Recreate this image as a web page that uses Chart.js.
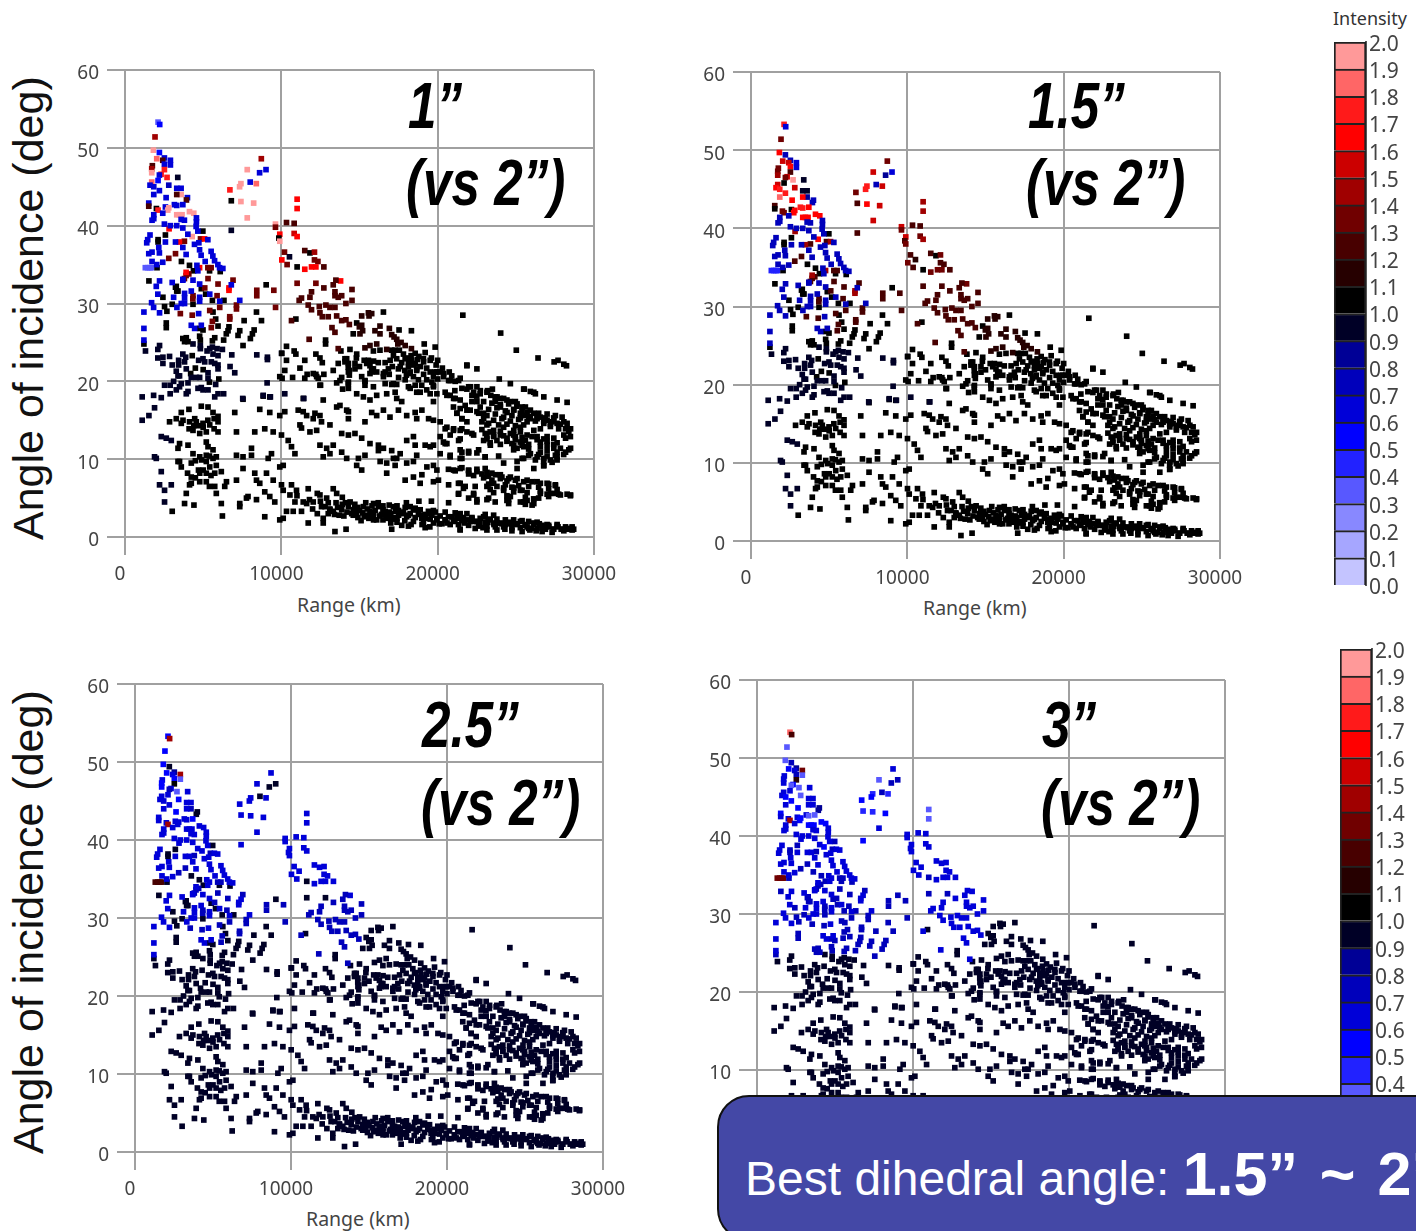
<!DOCTYPE html>
<html>
<head>
<meta charset="utf-8">
<title>Best dihedral angle</title>
<script src="https://cdn.jsdelivr.net/npm/chart.js@4"></script>
<style>
    html, body { margin: 0; padding: 0; width: 1416px; height: 1231px; overflow: hidden; background: #fff; }
    canvas { position: absolute; }
    .txt { position: absolute; white-space: nowrap; font-family: "Liberation Sans", Arial, sans-serif; }
    .ylab { font-size: 43px; color: #111; transform-origin: 0 0; transform: rotate(-90deg); line-height: 50px; }
    .xlab { font-family: "Noto Sans", sans-serif; font-size: 19.5px; color: #444; line-height: 22px; }
    .tag { font-weight: bold; font-style: italic; font-size: 64px; line-height: 64px; color: #000; transform-origin: 0 0; transform: scaleX(.8); }
    #callout { position: absolute; left: 717px; top: 1095px; width: 800px; height: 146px; box-sizing: border-box;
               background: #4448A6; border: 2px solid #111; border-radius: 32px; }
    #calloutText { left: 745px; top: 1139px; line-height: 70px; color: #fff; font-size: 48px; }
    #calloutText b { font-size: 61px; word-spacing: 5px; }
</style>
</head>
<body>
<canvas id="panel0"></canvas>
<canvas id="panel1"></canvas>
<canvas id="panel2"></canvas>
<canvas id="panel3"></canvas>
<canvas id="scale0"></canvas>
<canvas id="scale1"></canvas>

<div class="txt ylab" style="left:3px;top:540px">Angle of incidence (deg)</div>
<div class="txt ylab" style="left:3px;top:1154px">Angle of incidence (deg)</div>
<div class="txt xlab" style="left:297px;top:594px">Range (km)</div>
<div class="txt xlab" style="left:923px;top:597px">Range (km)</div>
<div class="txt xlab" style="left:306px;top:1208px">Range (km)</div>

<div class="txt tag" style="left:408px;top:74px">1”</div>
<div class="txt tag" style="left:406px;top:151px">(vs 2”)</div>
<div class="txt tag" style="left:1028px;top:74px">1.5”</div>
<div class="txt tag" style="left:1026px;top:151px">(vs 2”)</div>
<div class="txt tag" style="left:422px;top:693px">2.5”</div>
<div class="txt tag" style="left:421px;top:771px">(vs 2”)</div>
<div class="txt tag" style="left:1042px;top:693px">3”</div>
<div class="txt tag" style="left:1041px;top:771px">(vs 2”)</div>

<div class="txt" style="left:1333px;top:6px;font-family:'Noto Sans',sans-serif;font-size:18px;color:#333">Intensity</div>

<div id="callout"></div>
<div class="txt" id="calloutText">Best dihedral angle: <b>1.5” ~ 2”</b></div>

<script>
// ----------------------------------------------------------------------
// Axis and colour bar values
// ----------------------------------------------------------------------
const rangeTicks = [0, 10000, 20000, 30000];
const angleTicks = [0, 10, 20, 30, 40, 50, 60];
const binColors = [
    '#C4C4FF', '#A6A6FF', '#8888FF', '#5858FF', '#2222FF', '#0000FF', '#0000D8', '#0000BB', '#000096', '#000026',
    '#000000', '#260000', '#480000', '#700000', '#A00000', '#CC0000', '#FF0000', '#FF1A1A', '#FF6666', '#FF9999'
];

// ----------------------------------------------------------------------
// Points: [range km, angle deg, then for the rows
// below the intensity in the 1", 1.5", 2.5", 3" panels]
// ----------------------------------------------------------------------
const topRows = [
    [2115,53.3,.35,1.7,.55,1.8],[2220,53,.5,.6,1.45,1.2],[1920,51.4,1.45,1.3,.55,.35],[1815,49.7,1.95,1.65,.55,.3],
    [2200,49.4,.55,.7,.95,.75],[2030,48.6,1.85,1.5,.55,.55],[2520,48.7,.6,.7,.8,.8],[2415,48.4,1.2,1.5,.6,.6],
    [2905,48.4,.6,.6,1.4,1.3],[2520,47.9,.6,1.65,.55,.7],[2905,47.8,.6,.6,.35,.3],[1750,47.7,1.2,1.3,.6,.6],
    [1710,47.3,1.4,1.35,.55,.6],[2520,47.2,1.7,1.2,1.0,1.1],[1710,46.8,1.9,1.4,.55,.6],[2310,46.6,1.7,1.5,.6,.5],
    [2200,46.5,.6,1.3,.7,.35],[2690,46.2,1.7,1.95,.35,.35],[2115,45.8,.55,1.0,.6,.6],[3375,46.2,.95,.95,.6,.65],
    [1710,45.6,1.85,1.5,.6,.6],[1600,45.2,.6,1.65,.6,.65],[1840,45,.6,1.7,.65,.5],[2800,45.2,.75,1.5,.55,.35],
    [2200,44.5,.6,1.7,.6,.55],[3310,44.8,.6,.9,.6,.6],[3590,44.8,.6,.95,.6,.6],[1840,44,.6,1.8,.6,.6],
    [3590,44,1.9,.85,.7,.65],[3310,44,1.2,1.65,.65,.6],[2630,43.6,.65,1.65,.55,.55],[3995,43.6,.6,.7,.95,.8],
    [3930,43.3,1.2,.75,.95,.8],[1520,42.9,.6,1.25,.6,.55],[1520,42.5,1.25,1.05,.6,.6],[3160,42.7,.6,1.7,.65,.65],
    [3310,42.6,.6,1.7,.6,.35],[3700,42.7,.6,1.65,.55,.3],[2585,42.4,.6,1.05,.6,.6],[2010,42.2,1.05,1.3,.65,.6],
    [2115,42,1.7,1.35,1.45,1.45],[1300,34.6,.35,.45,1.25,1.3],[1450,34.6,.35,.45,1.25,1.3],[1600,34.6,.35,.45,1.25,1.3],
    [1700,34.6,.35,.45,1.25,1.3]
];
const islandRows = [
    [8720,48.6,1.45,1.3,.6,.6],[7820,47.2,1.9,1.5,.6,.35],[9020,47.2,.6,.6,.95,.75],[8610,46.8,.6,.85,.95,.7],
    [8010,45.6,.6,.7,.95,.75],[8400,45.4,1.85,1.5,.6,.4],[7415,45.4,1.9,1.7,.6,.4],[7330,45,1.9,1.7,.6,.5],
    [6710,44.6,1.7,1.3,.6,.55],[6800,43.2,1.05,1.2,.6,.4],[7415,43.1,1.9,1.65,.6,.4],[8230,42.9,1.9,1.5,.6,.55],
    [7820,41,1.9,1.5,.6,.6],[6800,39.4,.95,1.25,.6,.55]
];
const ridgeRows = [
    [11010,43.4,1.65,1.45,.6,.3],[11010,42.2,1.65,1.45,.6,.3],[10330,40.4,1.25,1.25,.6,.6],[10820,40.3,1.25,1.25,.6,.6],
    [9625,40.2,1.95,1.55,.6,.6],[9625,39.8,1.3,1.3,.6,.6],[9900,38.9,1.65,1.5,.6,.6],[10820,39,1.5,1.3,.6,.6],
    [11010,38.6,1.65,1.4,.6,.6],[9840,38.4,1.05,1.2,.65,.65],[9900,38,1.95,1.3,.6,.6],[10200,36.6,1.3,1.2,.6,.6],
    [11500,36.8,1.2,1.2,.65,.6],[11830,36.5,1.05,1.05,.6,.6],[12120,36.6,1.4,1.3,.6,.6],[10520,36,.95,1.1,.6,.6],
    [12120,35.6,1.3,1.2,.6,.6],[12340,35.4,1.3,1.2,.6,.6],[10030,35.6,1.65,1.3,.6,.6],[10370,35,1.3,1.2,.65,.65],
    [11010,34.7,1.05,1.05,.95,.7],[11500,34.4,1.6,1.3,.6,.6],[11930,34.7,1.6,1.3,.6,.6],[12210,34.7,1.6,1.3,.6,.6],
    [12720,34.7,1.25,1.2,.6,.6],[11010,32.6,1.3,1.2,.95,.7],[12210,32.6,1.3,1.2,.95,.7],[13790,32.9,1.65,1.3,.6,.6]
];

// Groups that keep one intensity per panel
const blueNear = [
    [2210,32.9],[3020,32.7],[3700,33],[4350,33],[4775,32.5],[6800,32.4],[2000,32.2],[4240,31.6],[2100,31.2],[3110,30.8],
    [3810,31.3],[3810,30.7],[4775,30.8],[4775,30.3],[5420,31.2],[6060,30.3],[7340,30.4],[1700,30.1],[1830,29.5],[2210,28.8],
    [3320,29.5],[3600,30],[3810,30],[1210,28.9],[4710,28.7],[4880,27.2],[4240,27.2],[1210,26.8],[4455,26.8],[1210,25.3],
    [2415,41.6],[1840,41.4],[1730,40.7],[1840,40.9],[4570,41],[4570,40.5],[3590,40.8],[3800,40.7],[2520,40.2],[2900,40],
    [3310,40],[3700,39.7],[4550,39.9],[4660,39.3],[1600,38.8],[1450,38.2],[1390,37.8],[2585,37.9],[3230,37.9],[4020,38.9],
    [5300,38.2],[4445,37.6],[4725,37.8],[4770,36.9],[4870,36.2],[5130,35.4],[5510,36.7],[5620,36.1],[5730,35.5],[5940,35],
    [6050,34.6],[6260,34.5],[2160,37.2],[2200,36.5],[1520,36.4],[1730,36.6],[3700,37.2],[3910,36.3],[2415,35.3],[1730,35.4],
    [2030,35],[4600,34.9],[4660,34.2],[3700,33.1]
];
const blueLevels = [.6, .75, .65, .6];
const darkNear = [
    [1530,32.9],[3230,32.1],[3310,31.6],[3280,32.2],[3390,31.6],[4880,31.9],[2425,30.8],[2530,29.6],[2680,29],[3020,29.9],
    [4350,29.9],[5630,28.9],[8410,28.9],[6330,30.4],[5590,30.4],[5160,31.2],[5800,28],[8730,27.8],[4775,26.8],[4990,26.6],
    [5950,27.1],[6650,27],[6590,26.5],[6480,26.1],[7340,26.5],[7230,25.9],[8260,26.6],[8150,26.1],[8020,25.5],[3700,25.5],
    [3920,25.6],[4030,25.1],[3810,25.1],[4775,25.8],[4820,25.3],[5740,25.6],[5590,25.2],[6310,25.3],[7550,24.6],[4980,39.3],
    [2115,38.2],[2115,37.9],[2585,38.8],[3610,35.4],[2050,34.6],[4125,34.9],[4380,34.2],[6090,34.1],[5410,34.2],[2640,27.5],
    [2640,26.9],[7620,27.8],[1210,24.8],[9030,32.4]
];
const darkLevels = [1.05, 1.05, .9, .7];
const maroonNear = [
    [3800,33.2],[4080,33.8],[5310,33.2],[5950,32.5],[6910,33],[9520,31.7],[8430,31.7],[8430,31],[5100,32],[4350,31],
    [5890,31],[5420,29.1],[6060,29.5],[7130,29.8],[7130,29.3],[9630,29.5],[3540,28.7],[4300,28.5],[6700,28.3],[6700,28],
    [5590,27.7],[5520,26.9],[3230,36.4],[2800,35.8],[4340,30.6],[4830,38.3],[3800,38],[5300,34.6],[5510,34.6],[3910,33.6]
];
const maroonLevels = [1.3, 1.25, .75, .7];
const redNear = [[6650,32],[6650,31.7],[3480,37.9],[5090,38.3],[2820,39.6],[3910,34],[4770,34.6]];
const redLevels = [1.65, 1.45, .6, .6];
const pinkNear = [[2800,42.3],[2735,42],[3310,41.4],[3480,41.4],[3650,41.4],[4125,41.8],[4400,41.6],[4295,38.6]];
const pinkLevels = [1.95, 1.65, .65, .55];
const ridgeDark = [
    [13490,33],[13320,32.4],[12720,32],[14520,31.8],[13430,31.5],[13430,31],[13640,30.8],[13860,31],[11930,31.5],[11830,30.8],
    [14520,30.4],[14130,30],[11290,30.7],[11140,30.4],[11720,29.8],[11930,29.2],[12430,29.6],[12850,29.8],[13110,29.5],[13430,29.5],
    [12470,28.8],[12620,28.3],[13000,28.3],[13540,28.4],[13860,27.8],[14130,27.9],[14350,27.3],[10650,27.8],[13240,26.9],[13430,26.3],
    [11780,25.4],[13640,24.2]
];
const ridgeDarkLevels = [1.25, 1.2, .7, .65];
const ridgeFar = [
    [15140,28.4],[15570,28.8],[15610,28.4],[15780,28.7],[14990,27],[15140,27.2],[15200,26.5],[15030,26.1],[16310,27.1],[15990,26.5],
    [16310,26.1],[16910,26.8],[17060,26],[17210,25.7],[17380,25.4],[17660,25],[17450,24.8],[17920,24.6],[18320,24.2],[15350,24.3],
    [15670,24.6],[16100,24.8],[16740,24.1]
];
const ridgeFarLevels = [1.15, 1.1, .95, .92];
const ridgeBlack = [
    [10930,28],[16530,28.9],[14820,27.5],[14600,26.1],[17530,26.6],[18320,26.5],[19140,24.8],[19840,24.4],[21610,28.5],[24030,26.2],
    [25030,24],[26420,23],[27450,22.5],[27700,22.7],[28070,22.2],[28240,22],[12830,25.3],[12830,24.8],[13810,23.9],[10330,24.5],
    [10030,23.6],[10820,23.9],[10930,23.5],[12210,23.5],[12470,23],[12620,22.4],[10330,22.7],[11500,22.7],[11190,21.7],[14390,24.1],
    [14820,23.5],[15890,23.9],[16310,24],[17060,24],[17270,24],[17550,24],[17810,23.5],[18560,23.6],[17170,23.3],[16960,22.7]
];
const ridgeBlackLevels = [1.05, 1.05, .95, .92];
const navyLow = [
    [2210,24.6],[2100,24.1],[1310,23.9],[4350,24.8],[4820,24.6],[4820,24.2],[5590,24.4],[5420,24.2],[5250,23.9],[5890,24.2],
    [6230,24.1],[3700,23.5],[3880,23.1],[6830,23.4],[5630,23.5],[5950,23.3],[8430,23.4],[9110,23.1],[9110,22.8],[10010,23.6],
    [2425,23.1],[2100,23],[2850,23.2],[3430,22.7],[3430,22.1],[3810,22.5],[3920,21.6],[4710,22.7],[4990,22.9],[5100,22.5],
    [5520,22.5],[5740,22.3],[5950,22.1],[5950,21.6],[2425,22.3],[3020,22.1],[3280,21.3],[3390,20.7],[3490,20.7],[5310,21.1],
    [5310,20.4],[6720,21.9],[7020,21.1],[4240,20.5],[4560,20.5],[4775,20.5],[9090,19.8],[2530,19.5],[2890,19.5],[3110,20],
    [3600,19.7],[3490,19.3],[4030,19.8],[4880,19.2],[4670,19.1],[4990,18.9],[5800,19.6],[5310,18.9],[3280,18.9],[2890,18.4],
    [4030,18.7],[3920,18.4],[1100,18],[1830,18.2],[2320,17.9],[6310,18.4],[5950,18.4],[5740,18],[7530,17.8],[8840,18.2],
    [9300,18],[10220,18.4],[11440,17.8],[1100,15],[1530,15.6],[1890,16.6],[2320,12.9],[2640,12.7],[2960,12.4],[1890,10.3],
    [2000,10.1],[2320,8.4],[2210,6.7],[2530,6],[2960,6.7],[2530,4.5]
];
const navyLevels = [.97, .97, .95, .95];
const farLow = [
    [17380,22.9],[17920,22.9],[18340,22.7],[18560,22.3],[19090,22.9],[19520,22.7],[13640,22.3],[14180,22.9],[14070,22.5],[14280,21.8],
    [14710,22.3],[14710,21.6],[15570,22.7],[15670,22],[15890,21.6],[15780,21.2],[16640,22.4],[16850,21.6],[16640,21.2],[18130,22.4],
    [18450,22.1],[18130,21.9],[18660,21.6],[18240,21.2],[17490,21.6],[17600,21.9],[19900,22.1],[19520,21.2],[19840,21.2],[20160,21.2],
    [20740,21.2],[20380,20.6],[10220,21.4],[9900,20.6],[10050,20.4],[10720,20.5],[11500,20.4],[11650,20.9],[12210,20.9],[12360,20.4],
    [12720,20.9],[14350,21.4],[14350,20.8],[13860,20.5],[13540,19.8],[14280,19.7],[13920,19],[12510,19.5],[15140,20.6],[15350,20],
    [15350,19.5],[15670,21],[16530,20.6],[16640,19.7],[17060,19.6],[17380,19.6],[17920,20.2],[18450,20.6],[18770,20.2],[18240,19.1],
    [18660,18.6],[18980,19.5],[19300,20.2],[19630,19.9],[19730,19.3],[19950,18.4],[19300,18.9],[20700,20.1],[21120,20],[21440,20.4],
    [21870,22.1],[22510,21.6],[23940,20.3],[24650,19.7],[25540,19],[25930,18.7],[26250,18.4],[12040,21],[12260,20.6],[12470,19.5],
    [11400,17.8],[12680,17.6],[13320,21.4],[13750,20.1],[14290,19.9],[14070,22.9],[14290,22.3],[14290,21.2],[15460,22.3],[15780,21.6],
    [16100,21.2],[15350,20.1],[16530,21],[14290,19.1],[14820,18.4],[15250,18],[15670,17.6],[16100,18.2],[15890,19.3],[17170,19.7],
    [17280,18.6],[17380,17.8],[16740,18.4],[17700,17.4],[18130,19.3],[18560,19.5],[18880,18.6],[18240,21],[18660,21.4],[19100,22.5],
    [19730,20.6],[19950,21.2],[20380,21],[20800,20.1],[21340,20.1],[19730,19.5],[19520,18.4],[19730,17.4],[20590,18.2],[21020,17.8],
    [21870,19],[22300,18.6],[22730,18.8],[23150,18.6],[23800,18],[24220,17.8],[24650,17.4],[25080,17.1],[25500,19],[26150,18.6],
    [26790,18],[27640,17.6],[28280,17.3],[21870,22],[21100,18.8],[22100,19.3],[22500,18.1],[23400,18.2],[23500,19],
    [18000,23],[18300,23.3],[18800,23.2],[19200,23.7],[19600,23],[20000,22.7],[18700,22.8],[17700,22.4],[17100,21.9],[17900,21.4],
    [18900,21.9],[19300,21.7],[20300,21.7],[20900,20.7],[20000,20.3],[19100,20.9],[18000,20.8],[17500,20.5],[16200,22.4],[16900,20.9],
    [15000,21.9],[15300,22.7],[14800,23],[15900,22.6]
];
const tailMiddle = [
    [21440,16.5],[21230,15.9],[21550,15.2],[21870,14.8],[22080,16.3],[22510,17.4],[22510,16.1],[22940,15.9],[22830,14.8],[23690,17.4],
    [24010,16.7],[24440,16],[24870,16.3],[25290,15.9],[25720,16],[26150,15.9],[26570,15.4],[27000,15],[27430,15],[28070,14.8],
    [28500,13.9],[25500,15.6],[25930,15.2],[26360,15.2],[26790,14.6],[27210,14.2],[27640,14.6],[28180,13.9],[23150,14.4],[23580,13.7],
    [24220,14.1],[24870,13.7],[25290,14.1],[23150,12.9],[23580,12.9],[24010,13.1],[24440,12.7],[24970,12.9],[25290,12.2],[24870,11.8],
    [22940,12.4],[23370,11.8],[25080,11.4],[25500,11.6],[26150,13.7],[26360,12.9],[26570,12.2],[27000,12.9],[27430,12.7],[28180,12.7],
    [27000,11.8],[27430,11.4],[27850,11.4],[28500,11.4],[25930,10.7],[26360,10.3],[26790,10.1],[27210,9.9],[27640,10.3],[28180,10.9],
    [26790,9.2],[25500,10.1],[26150,8.8],[25080,8.8]
];
const tailDense = [
    [20480,18.6],[20800,18.2],[21120,17.8],[21550,19.1],[21980,19.3],[22510,19.3],[22190,18.2],[22720,18.4],[23190,18.8],[23680,18],
    [24010,17.8],[24430,17.6],[24970,17.4],[25400,16.7],[22940,17.4],[23470,17.2],[24010,17],[24540,17.1],[25070,16.8],[25610,16.7],
    [22720,16.7],[23260,16.4],[23790,16.6],[24330,16.2],[24860,16.4],[25400,16.1],[25930,16.3],[26460,15.9],[27000,15.8],[27530,15.6],
    [22620,15.9],[23150,15.6],[23690,15.8],[24220,15.4],[24750,15.6],[25290,15.3],[25820,15.5],[26360,15.6],[26890,15.3],[27420,15.3],
    [27960,15.4],[22940,15.2],[23580,15],[24110,15.2],[24650,14.9],[25180,15.1],[25720,14.8],[26250,14.9],[26780,14.9],[27320,14.8],
    [27850,14.5],[28280,14.6],[23260,14.6],[23900,14.4],[24430,14.5],[24970,14.3],[25500,14.4],[26570,13.9],[27210,14.5],[27740,13.9],
    [28390,13.6],[22830,13.8],[23360,13.5],[24010,13.6],[24650,13.3],[25290,13.5],[25720,13.1],[28490,12.9],[23040,13.3],[23580,13.1],
    [24220,13],[24860,13.1],[25400,12.8],[26040,12.9],[26780,12.6],[28070,13.1],[23150,12.6],[23790,12.4],[24430,12.3],[24970,12.5],
    [25610,12.4],[26360,12.5],[27000,12.3],[27640,12.1],[23360,12.1],[24010,11.9],[24750,12],[25400,11.8],[25820,11.9],[26570,11.6],
    [27420,11.9],[24860,11.2],[25820,11.3],[26570,10.9],[27000,11.1],[27640,10.9],[28390,11.2],[25820,10.5],[26460,10.6],[27000,10.4],
    [27530,10.5],[28060,10.6],[26250,9.9],[26780,9.7],[27320,9.6],[27640,9.9],[26780,9.15],[21010,16.7],[21230,15.9],[21550,15.2],
    [21870,16.3],[22190,17.4],[21440,17.6],[21760,16.9],[20590,14.1],[21010,13.7],[21550,13.9],[22190,13.3],[21440,12.6],[20800,13.1],
    [20370,12.2],[20480,12],[21980,11],[21440,11.2],[22620,11.2],[20800,10.5],[21440,10.1],[23040,10.3],[23900,10.4],[25400,10.1]
];
const lowerDense = [
    [20690,8.7],[21120,8.5],[21550,8.9],[21980,8.5],[22510,8.7],[23150,8.3],[21980,8.1],[22300,7.9],[22830,8.1],[23260,7.8],
    [23690,8],[24110,7.7],[24650,7.7],[22940,7.6],[23470,7.3],[24010,7.5],[24430,7.2],[24970,7.3],[25500,7.1],[26040,7.1],
    [26570,6.9],[27100,6.8],[27530,6.6],[21330,6.9],[23260,6.8],[23790,6.5],[24330,6.7],[24750,6.4],[25180,6.6],[25820,6.5],
    [26460,6.4],[27100,6.2],[27640,6.1],[21650,6.25],[23360,6.1],[24220,6],[24860,5.8],[25290,6],[25720,5.7],[26570,5.9],
    [27000,5.5],[27530,5.6],[21330,5.5],[22300,5.4],[23580,5.7],[24430,5.3],[25610,5.1],[26460,5],[27100,5.2],[27740,5.5],
    [28280,5.5],[28490,5.3],[21980,5],[23150,4.8],[24430,4.7],[24650,5.2],[25720,4.7],[26140,4.9],[22510,4.5],[23680,4.5],
    [24540,4.3],[25290,4.5],[25610,4.2],[26040,4.1]
];
const midLow = [
    [11080,16.3],[11400,16.1],[11620,15.6],[12150,15.9],[12470,15.6],[12040,15.2],[11190,14.4],[11290,14],[11830,13.5],[12260,13.7],
    [13110,14.4],[12570,14.8],[14290,15.2],[15350,14.8],[14290,16.1],[13750,16.9],[13540,16.7],[14180,16.3],[15780,16],[16100,15.6],
    [16530,16.3],[16950,15.4],[17490,16.3],[18020,15.6],[18560,16],[18990,16.3],[19420,15.2],[19730,15],[20160,14.8],[18660,15.2],
    [13860,13.3],[14290,13.1],[14710,13.3],[15140,12.7],[15670,12],[16210,11.8],[16530,11.4],[12470,11.8],[12900,11.4],[13320,11.8],
    [13110,10.7],[12680,10.3],[13860,10.9],[14180,10.1],[14930,10.1],[15350,10.5],[14820,9.2],[15140,8.6],[10440,12.4],[10650,11.6],
    [10870,10.7],[10010,13.1],[9480,13.5],[8940,13.9],[8300,13.5],[7130,13.5],[8090,11.4],[8090,10.5],[9370,10.7],[9160,10.1],
    [7550,10.3],[7130,10.5],[17060,11.1],[17600,10.7],[16210,11.1],[16320,9.7],[16740,9.5],[17170,10.1],[17280,9.2],[16740,8.2],
    [18020,12.4],[18450,12.9],[18560,11.8],[19200,11.8],[19520,11.6],[19730,11.8],[20160,12.9],[20590,12],[21020,13.9],[21440,13.7],
    [21870,13.5],[22300,13.1],[20480,13.9],[21340,12.4],[21550,10.9],[20160,10.7],[20800,10.3],[21550,10.1],[21980,10.8],[22510,10.8],
    [23040,10.3],[24220,9.5],[25080,9.7],[18660,10.5],[18450,9.7],[18020,9.5],[17380,10.1],[19730,9.2],[19950,8.6],[19310,9],
    [18990,8],[20050,7.3],[18880,6.9],[19730,7.1],[18450,7.7],[17920,7.3],[21020,8.6],[21440,8.8],[21980,8.6],[22510,8.4],
    [23040,8.8],[23470,8.2],[24010,8],[24540,7.5],[25080,7.5],[25720,7.3],[26360,7.1],[27000,6.9],[27530,6.7],[20700,6.7],
    [21440,6.9],[21760,6.5],[22400,6.5],[23150,6.5],[23580,6.9],[24220,6.3],[24870,6.3],[25400,6],[26570,5.6],[27210,5.6],
    [27850,5.4],[28500,5.4],[21340,5.6],[22300,5.6],[22510,4.8],[23260,5],[24540,4.8],[25500,4.5],[26150,4.3],[20700,4.4]
];
const nearLow = [
    [3810,4.3],[4410,4.1],[3920,5.6],[4130,6.7],[3490,9.7],[3020,3.3],[4350,10.7],[4780,10.3],[5200,10.5],[5630,10.1],
    [5840,9.2],[5200,9.7],[4240,9.5],[5420,9],[4240,7.7],[4780,8.2],[5200,8.2],[5740,8.2],[6160,8.4],[4780,7.1],
    [4240,6.9],[5200,7.1],[5740,6.5],[5840,5.6],[6160,4.3],[6230,2.7],[6490,7.1],[6380,6.5],[3390,9.7],[3600,9],
    [3490,12],[4030,11.8],[3390,11.4],[5200,12.2],[5310,11.6],[5630,11.2],[5840,10.3],[3280,15.2],[3710,15],[4130,14.8],
    [4560,14.8],[4990,14.6],[5420,14.4],[5950,14.8],[4350,13.7],[4780,13.3],[5200,13.5],[5950,13.5],[3600,16],[4090,16.4],
    [4880,16.8],[5310,16.7],[5630,16],[5950,15.5],[4460,15.2],[2850,14.8],[7020,16],[7550,17.7],[8840,18.1],[9260,18],
    [8620,16.4],[9260,16],[9900,15.6],[10220,16.1],[7130,7.3],[7340,4.3],[7340,3.9],[7870,5.2],[7770,5],[8410,4.8],
    [7550,8.8],[8300,8.2],[8410,7.3],[8620,6.9],[9050,8.2],[9480,7.3],[10010,6.7],[9900,9],[10120,9.2],[8940,5.8],
    [9260,5.2],[9580,4.5],[10120,6],[10650,6.7],[10970,6],[10550,5.4],[10870,4.5],[8940,2.6],[9900,2.2],[10120,2.4],
    [10330,3.3],[10760,3.3],[11290,3.3],[11620,4.3],[11720,6.2],[12470,5.4],[12900,5],[11400,4.5],[12040,4.5],[12570,3.9],
    [13110,3.5],[13320,6.2],[13540,5.6],[11720,1.8],[12680,2.4],[12680,1.8],[13430,.7],[14140,1],
    [4500,9.8],[4900,9.9],[5400,10.4],[5000,8.6],[5500,7.9],[4500,7.6],[4700,8.6],[4000,8.2],[5400,6.5],[5000,14.1],
    [4700,14.3],[5300,15],[4400,14.3],[5700,13.9],[5700,15.2],[4100,13.9],[3600,14.6],[4300,23.3],[4500,21.7],[4200,21],
    [5000,21.5],[5400,19.9],[6000,20.3],[11000,5.3],[11800,4.8],[12300,5.6],[13000,4.4],[13900,5.1]
];
const tailBottom = [
    [13320,3.3],[13860,3.5],[14290,3.9],[14710,3.3],[15250,3.9],[15670,3.3],[16210,3.9],[16640,3.3],[17170,3.9],[17700,3],
    [14000,2.7],[14500,3],[14900,2.5],[15100,2.1],[15500,2.8],[15900,2.6],[16100,2.2],[16400,2.9],[16900,2.6],[17000,1.8],
    [17400,2.4],[17700,1.5],[12000,3.6],[12300,3],[12500,4.6],[12800,3.9],[13000,3],[13500,4.4],[13700,2.8],[14100,4.4],
    [14400,4.5],[14600,2.8],[14900,3.8],[15200,3.1],[15400,4.4],[15600,2.4],[15800,4],[16000,3.4],[16300,2.7],[16500,4],
    [16800,2.4],[17000,3],[17060,1],[17500,3.4],[18000,4.4],[18300,1.6],[18800,4.6],[19000,1.6],[19600,4.6],[21440,.9],
    [13100,3.6],[13600,3.8],[14600,3.5],[15000,3.4],[15500,3.6],[15900,3.1],[16500,3.5],[16900,3.2],[17300,3.3],[13400,2.9],
    [14200,3.2],[14800,2.9],[15300,2.6],[15800,2.9],[16700,2.8],[17200,2.5],[17500,2.8],[13900,4.2],[14700,4.2],[15900,4.3],
    [16200,4.4],[16900,4.1],[17400,4],[15900,2.2],[16500,2.2],[17100,2.3],[17400,1.9],[17900,2.1],
    [18130,2.8],[18560,3.5],[18990,2.8],[19520,3],[19950,2.4],[20480,2.2],[20910,2.6],[21340,2.4],[21870,2.2],[22400,2],
    [22940,2.6],[23370,2.2],[23800,1.8],[24330,1.6],[24760,1.6],[25290,2],[25720,1.3],[26150,1.8],[26680,1.3],[27110,1.3],
    [27640,1.6],[28180,1.3],[28600,1.1],[19200,2.4],[19500,1.3],[20100,1.7],[20600,1.8],[21100,2],[21700,1.8],[22200,2.4],
    [22700,1.9],[23200,1.9],[23600,1.6],[24100,1.7],[24600,1.9],[25100,1.6],[25600,1.5],[26000,1.1],[26500,1.7],[27000,1.6],
    [27400,1],[27900,1],[28300,1],[28700,1]
];
const bottomDense = [
    [18240,3.9],[18560,3.7],[19730,3.4],[17920,3.8],[18450,3.5],[18880,3.5],[19410,3.3],[19840,3.2],[20480,3.2],[21120,3.1],
    [21440,3],[21870,3],[23040,2.9],[23580,2.8],[17810,3.2],[18240,3],[18770,2.9],[19200,2.9],[19630,2.8],[20160,2.7],
    [20690,2.6],[21230,2.6],[21650,2.5],[22190,2.5],[22720,2.4],[23260,2.3],[23790,2.3],[24330,2.2],[24860,2.2],[25400,2.1],
    [25820,2],[26360,1.9],[18020,2.6],[18560,2.5],[18980,2.4],[19520,2.3],[19950,2.2],[20480,2.2],[21010,2.1],[21550,2.1],
    [22080,2],[22510,2],[23040,1.9],[23580,1.8],[24010,1.8],[24540,1.7],[25070,1.7],[25610,1.6],[26140,1.6],[26680,1.5],
    [27100,1.5],[27640,1.4],[18450,2],[19090,1.9],[19730,1.8],[20270,1.7],[20800,1.6],[21330,1.6],[21980,1.5],[22620,1.4],
    [23150,1.4],[23690,1.3],[24220,1.3],[24750,1.2],[25290,1.2],[25820,1.1],[26360,1.1],[26890,1],[27420,1],[27960,1],
    [28390,1.1],[28600,1.3],[18130,1.4],[19200,1.2],[21440,1],[23150,.9],[23790,.9],[24750,.8],[25400,.7],[26680,.7],
    [27320,.6],[28070,.8],[28600,.9],[22400,1.1],[22900,1.2],[24300,1],[25900,.9],[26300,.8],[26900,1.3],[27700,1.3]
];
const lowLevels = [1.05, 1.05, .95, .95];

// ----------------------------------------------------------------------
// Panel layout: plot box in page pixels
// ----------------------------------------------------------------------
const panelBoxes = [
    { left: 125, right: 594, top: 70, bottom: 537 },
    { left: 751, right: 1220, top: 72, bottom: 541 },
    { left: 135, right: 603, top: 684, bottom: 1152 },
    { left: 757, right: 1225, top: 680, bottom: 1148 }
];

function binColor(level) {
    const bin = Math.min(binColors.length - 1, Math.floor(level * 10 + 1e-6));
    return binColors[bin];
}

// パネルごとの点と色を作る
function buildPoints(panelIndex) {
    const points = [];
    [topRows, islandRows, ridgeRows].forEach(rows => {
        rows.forEach(row => points.push({ x: row[0], y: row[1], color: binColor(row[2 + panelIndex]) }));
    });
    const groups = [
        [farLow, lowLevels], [tailMiddle, lowLevels], [tailDense, lowLevels], [lowerDense, lowLevels], [midLow, lowLevels],
        [nearLow, lowLevels], [tailBottom, lowLevels], [bottomDense, lowLevels], [navyLow, navyLevels],
        [ridgeBlack, ridgeBlackLevels], [ridgeFar, ridgeFarLevels], [ridgeDark, ridgeDarkLevels], [darkNear, darkLevels],
        [maroonNear, maroonLevels], [redNear, redLevels], [pinkNear, pinkLevels], [blueNear, blueLevels]
    ];
    groups.forEach(([pts, levels]) => {
        pts.forEach(p => points.push({ x: p[0], y: p[1], color: binColor(levels[panelIndex]) }));
    });
    return points;
}

const GRID = '#A0A0A0';
const TICK_FONT = { family: '"Noto Sans", sans-serif', size: 19 };
const SCALE_FONT = { family: '"Noto Sans", sans-serif', size: 21 };

// ラベルのはみ出し分を無視してプロット枠を固定する
function zeroPadding(scale) {
    scale.paddingTop = 0;
    scale.paddingBottom = 0;
    scale.paddingLeft = 0;
    scale.paddingRight = 0;
}

function drawPanel(panelIndex) {
    const box = panelBoxes[panelIndex];
    const canvas = document.getElementById('panel' + panelIndex);
    const padLeft = 60, padTop = 12, padRight = 30, padBottom = 50;
    canvas.width = box.right - box.left + padLeft + padRight;
    canvas.height = box.bottom - box.top + padTop + padBottom;
    canvas.style.left = (box.left - padLeft) + 'px';
    canvas.style.top = (box.top - padTop) + 'px';
    const points = buildPoints(panelIndex);

    new Chart(canvas.getContext('2d'), {
        type: 'scatter',
        data: {
            datasets: [{
                data: points,
                pointStyle: 'rect',
                pointRadius: 4,
                pointBorderWidth: 0,
                pointBackgroundColor: points.map(p => p.color)
            }]
        },
        options: {
            responsive: false,
            animation: false,
            devicePixelRatio: 1,
            layout: { padding: { left: 0, top: padTop, right: padRight, bottom: 0 } },
            plugins: { legend: { display: false }, tooltip: { enabled: false } },
            scales: {
                x: {
                    type: 'linear', min: 0, max: 30000,
                    afterBuildTicks: scale => { scale.ticks = rangeTicks.map(value => ({ value })); },
                    afterFit: scale => { scale.height = padBottom; zeroPadding(scale); },
                    grid: { color: GRID, lineWidth: 2, tickLength: 18, tickColor: GRID },
                    border: { color: GRID, width: 2 },
                    ticks: { font: TICK_FONT, color: '#444', padding: 8, labelOffset: -5, maxRotation: 0,
                             callback: v => String(v) }
                },
                y: {
                    type: 'linear', min: 0, max: 60,
                    afterBuildTicks: scale => { scale.ticks = angleTicks.map(value => ({ value })); },
                    afterFit: scale => { scale.width = padLeft; zeroPadding(scale); },
                    grid: { color: GRID, lineWidth: 2, tickLength: 18, tickColor: GRID },
                    border: { color: GRID, width: 2 },
                    ticks: { font: TICK_FONT, color: '#444', padding: 8, labelOffset: 4 }
                }
            }
        }
    });
}

// カラーバー: 積み上げ棒で 0.1 刻みの色を並べる
function drawScale(id, left, top, axisWidth) {
    const canvas = document.getElementById(id);
    canvas.width = 8 + 32 + axisWidth;
    canvas.height = 572;
    canvas.style.left = left + 'px';
    canvas.style.top = top + 'px';
    new Chart(canvas.getContext('2d'), {
        type: 'bar',
        data: {
            labels: ['Intensity'],
            datasets: binColors.map(color => ({
                data: [0.1],
                backgroundColor: color,
                borderColor: '#222',
                borderWidth: 2,
                barPercentage: 1,
                categoryPercentage: 1
            }))
        },
        options: {
            responsive: false,
            animation: false,
            devicePixelRatio: 1,
            layout: { padding: { left: 8, top: 12, right: 0, bottom: 17 } },
            plugins: { legend: { display: false }, tooltip: { enabled: false } },
            scales: {
                x: { stacked: true, display: false },
                y: {
                    stacked: true, position: 'right', min: 0, max: 2,
                    afterFit: scale => { scale.width = axisWidth; zeroPadding(scale); },
                    grid: { display: false, drawTicks: false },
                    border: { color: '#555', width: 2 },
                    ticks: { stepSize: 0.1, autoSkip: false, maxTicksLimit: 21, font: SCALE_FONT, color: '#444', padding: 3,
                             labelOffset: 3, callback: v => Number(v).toFixed(1) }
                }
            }
        }
    });
}

[0, 1, 2, 3].forEach(drawPanel);
drawScale('scale0', 1326, 30, 50);
drawScale('scale1', 1332, 637, 44);
</script>
</body>
</html>
